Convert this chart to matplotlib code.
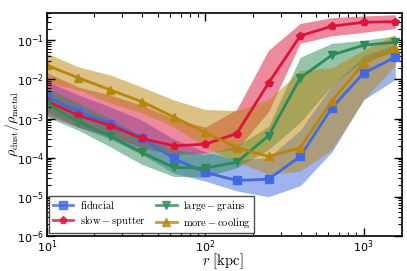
import matplotlib
matplotlib.use("Agg")
import matplotlib.pyplot as plt
import numpy as np
from matplotlib.font_manager import FontProperties

r = [10, 15.8, 25.1, 39.8, 63.1, 100, 158, 251, 398, 631, 1000, 1585]

fid = [3.6e-3, 1.5e-3, 7.4e-4, 3.2e-4, 9.5e-5, 4.2e-5, 2.6e-5, 2.8e-5, 1.07e-4, 1.9e-3, 1.45e-2, 3.7e-2]
fid_lo = [1.5e-3, 6e-4, 3e-4, 1.2e-4, 4e-5, 2.5e-5, 1.4e-5, 1.0e-5, 1.9e-5, 1.4e-4, 3e-3, 1.0e-2]
fid_hi = [9e-3, 4e-3, 2e-3, 9e-4, 3e-4, 1.4e-4, 9e-5, 1.0e-4, 5e-4, 7e-3, 4e-2, 8e-2]

slow = [2.8e-3, 1.2e-3, 6.6e-4, 3.1e-4, 2.0e-4, 2.2e-4, 4.1e-4, 8.1e-3, 0.13, 0.23, 0.29, 0.30]
slow_lo = [1.2e-3, 6e-4, 3.5e-4, 1.8e-4, 1.2e-4, 1.3e-4, 1.6e-4, 1.5e-3, 8.4e-2, 0.13, 0.16, 0.2]
slow_hi = [1.5e-2, 6.4e-3, 4e-3, 2.2e-3, 1.0e-3, 6e-4, 1.7e-3, 5.6e-2, 0.27, 0.38, 0.42, 0.45]

large = [2.4e-3, 8.3e-4, 3.5e-4, 1.35e-4, 5.6e-5, 5.4e-5, 7.6e-5, 3.6e-4, 1.1e-2, 4.2e-2, 7.5e-2, 8.9e-2]
large_lo = [1.1e-3, 5e-4, 1.9e-4, 6.7e-5, 3.3e-5, 3.2e-5, 5.5e-5, 1.6e-4, 8e-4, 7e-3, 3e-2, 5e-2]
large_hi = [6e-3, 2.5e-3, 1e-3, 3.5e-4, 1.6e-4, 1.2e-4, 2e-4, 6.3e-4, 3.7e-2, 8.4e-2, 0.1, 0.13]

cool = [2.3e-2, 1.1e-2, 5.4e-3, 2.7e-3, 1.1e-3, 4.4e-4, 1.8e-4, 1.07e-4, 1.8e-4, 2.8e-3, 2.6e-2, 6.3e-2]
cool_lo = [8.5e-3, 5.4e-3, 2.5e-3, 1.4e-3, 6.2e-4, 1.8e-4, 8e-5, 3.7e-5, 4.5e-5, 1.6e-4, 3e-3, 2.3e-2]
cool_hi = [4.7e-2, 2.1e-2, 1.3e-2, 6.4e-3, 3e-3, 1.7e-3, 1.6e-3, 3e-3, 1.7e-2, 2e-2, 5.6e-2, 0.14]

labels = [r"$\mathrm{fiducial}$", r"$\mathrm{slow-sputter}$",
          r"$\mathrm{large-grains}$", r"$\mathrm{more-cooling}$"]
colors = ["#4169E1", "#DC143C", "#2E8B57", "#B8860B"]
markers = ["s", "p", "v", "^"]

fig = plt.figure(figsize=(4.07, 2.71), dpi=100)
ax = fig.add_axes([0.115, 0.13, 0.873, 0.822])

series = [(fid, fid_lo, fid_hi), (slow, slow_lo, slow_hi),
          (large, large_lo, large_hi), (cool, cool_lo, cool_hi)]
for (mid, lo, hi), c, m, lab in zip(series, colors, markers, labels):
    ax.fill_between(r, lo, hi, color=c, alpha=0.5, lw=0)
    ax.plot(r, mid, color=c, marker=m, ms=6, lw=2, label=lab)

ax.set_xscale("log")
ax.set_yscale("log")
ax.set_xlim(10, 1750)
ax.set_ylim(1e-6, 0.5)
ax.tick_params(which="both", direction="in", top=True, right=True, labelsize=8, pad=2)
ax.tick_params(which="major", length=6, width=1)
ax.tick_params(which="minor", length=3, width=0.8)
for s in ax.spines.values():
    s.set_linewidth(1.2)

ax.set_xlabel(r"$r\ [\mathrm{kpc}]$", fontsize=10.5, math_fontfamily="cm")
ax.set_ylabel(r"$\rho_{\rm dust}/\rho_{\rm metal}$", fontsize=10, math_fontfamily="cm")
ax.xaxis.set_label_coords(0.495, -0.072)
ax.yaxis.set_label_coords(-0.072, 0.5)

prop = FontProperties(size=7.5, math_fontfamily="cm")
leg = ax.legend(loc="lower left", ncol=2, prop=prop, fancybox=False, edgecolor="0.3",
                framealpha=1, columnspacing=1.0, handlelength=2.0, markerscale=0.85,
                borderaxespad=0.25, borderpad=0.3, labelspacing=0.3, handletextpad=0.6)
for h in leg.legend_handles:
    h.set_alpha(0.8)

fig.savefig("out.png", dpi=100)
